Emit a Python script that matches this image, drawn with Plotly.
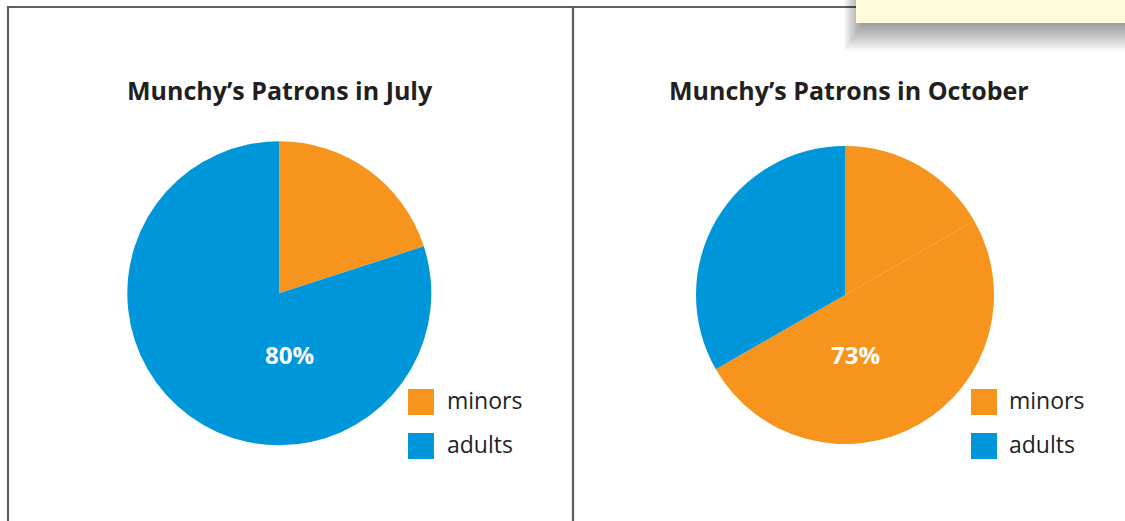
import plotly.graph_objects as go

# ---------------- data ----------------
july_labels = ["minors", "adults"]
july_values = [20, 80]
july_colors = ["#F7941E", "#0096DA"]
july_callout = "80%"

oct_labels = ["minors (part 1)", "minors (part 2)", "adults"]
oct_values = [16.7, 50.0, 33.3]
oct_colors = ["#F7941E", "#F7941E", "#0096DA"]
oct_callout = "73%"

legend_labels = ["minors", "adults"]
legend_colors = ["#F7941E", "#0096DA"]

titles = ["Munchy’s Patrons in July", "Munchy’s Patrons in October"]

# ---------------- layout helpers ----------------
W, H = 1125, 521
def px(x):
    return x / W
def py(y):
    return 1 - y / H

def pie_domain(cx, cy, r):
    return dict(x=[px(cx - r), px(cx + r)], y=[py(cy + r), py(cy - r)])

fig = go.Figure()

fig.add_trace(go.Pie(
    labels=july_labels, values=july_values,
    marker=dict(colors=july_colors, line=dict(width=0)),
    sort=False, direction="clockwise", rotation=0,
    textinfo="none", hoverinfo="label+percent", showlegend=False,
    domain=pie_domain(279.3, 293.3, 152),
))
fig.add_trace(go.Pie(
    labels=oct_labels, values=oct_values,
    marker=dict(colors=oct_colors, line=dict(width=0)),
    sort=False, direction="clockwise", rotation=0,
    textinfo="none", hoverinfo="label+percent", showlegend=False,
    domain=pie_domain(845, 295, 149),
))

shapes = []
LINE = "#5E5E5E"
# panel frame
shapes.append(dict(type="line", xref="paper", yref="paper",
                   x0=px(7), x1=px(860), y0=py(7), y1=py(7),
                   line=dict(color=LINE, width=2.2)))
shapes.append(dict(type="line", xref="paper", yref="paper",
                   x0=px(8), x1=px(8), y0=py(6), y1=py(530),
                   line=dict(color=LINE, width=2.2)))
shapes.append(dict(type="line", xref="paper", yref="paper",
                   x0=px(573), x1=px(573), y0=py(6), y1=py(530),
                   line=dict(color=LINE, width=2.2)))

# sticky note shadow (layered translucent rectangles)
n = 16
for s in range(n):
    shapes.append(dict(type="rect", xref="paper", yref="paper",
                       x0=px(862 - s * 1.2), x1=px(1130),
                       y0=py(0), y1=py(24 + s * 1.8),
                       line=dict(width=0), fillcolor="rgba(0,0,0,0.028)"))
# sticky note
shapes.append(dict(type="rect", xref="paper", yref="paper",
                   x0=px(856), x1=px(1130), y0=py(-5), y1=py(23),
                   line=dict(width=0), fillcolor="#FFFADC"))

annotations = []
# titles
for t, cx in zip(titles, [280, 849]):
    annotations.append(dict(text=t, x=px(cx), y=py(90), xref="paper", yref="paper",
                            showarrow=False, xanchor="center", yanchor="middle",
                            font=dict(family="Open Sans", size=25, color="#231F20",
                                      weight="bold")))
# callouts
for t, cx in zip([july_callout, oct_callout], [289, 855]):
    annotations.append(dict(text=t, x=px(cx), y=py(354), xref="paper", yref="paper",
                            showarrow=False, xanchor="center", yanchor="middle",
                            font=dict(family="Open Sans", size=24, color="white",
                                      weight="bold")))

# legends (one per panel)
for (sx, tx) in [(408, 445), (971, 1007)]:
    for i, (lab, col) in enumerate(zip(legend_labels, legend_colors)):
        y0 = 389 + i * 44
        shapes.append(dict(type="rect", xref="paper", yref="paper",
                           x0=px(sx), x1=px(sx + 26), y0=py(y0 + 26), y1=py(y0),
                           line=dict(width=0), fillcolor=col))
        annotations.append(dict(text=lab, x=px(tx), y=py(y0 + 11), xref="paper",
                                yref="paper", showarrow=False, xanchor="left",
                                yanchor="middle",
                                font=dict(family="Open Sans", size=23, color="#231F20")))

fig.update_layout(
    width=W, height=H, margin=dict(l=0, r=0, t=0, b=0),
    paper_bgcolor="white", plot_bgcolor="white",
    shapes=shapes, annotations=annotations,
)

fig.write_html("out.html", config={"displayModeBar": False},
               post_script="document.body.style.margin='0';document.body.style.padding='0';")
